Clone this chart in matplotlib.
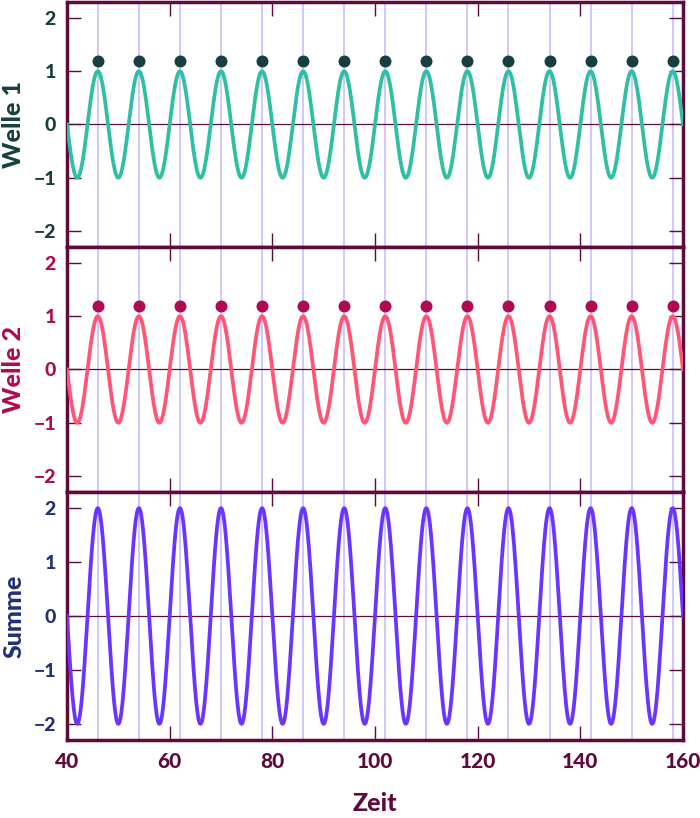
import numpy as np
import matplotlib.pyplot as plt

plt.rcParams['font.family'] = ['Lato', 'DejaVu Sans']
plt.rcParams['font.weight'] = 'black'

# data
t_start, t_end = 40, 160
period = 8.0
amp1 = 1.0
amp2 = 1.0
first_peak = 46.0
peaks = [46, 54, 62, 70, 78, 86, 94, 102, 110, 118, 126, 134, 142, 150, 158]
dot_y = 1.2
panel_names = ['Welle 1', 'Welle 2', 'Summe']
xticks = [40, 60, 80, 100, 120, 140, 160]

t = np.linspace(t_start, t_end, 2000)
w1 = amp1 * np.cos(2 * np.pi * (t - first_peak) / period)
w2 = amp2 * np.cos(2 * np.pi * (t - first_peak) / period)
total = w1 + w2

maroon = '#5e0a3d'
line_cols = ['#2fbfa3', '#ff5577', '#6a35ff']
label_cols = ['#173f3f', '#b00a50', '#22307a']
dot_cols = ['#173f3f', '#b00a50', None]
vline_col = '#c8bdff'

fig = plt.figure(figsize=(7, 8.18), dpi=100)
L, R = 67 / 700, 683 / 700
tops = [2, 247, 492]
bots = [247, 492, 740]
axes = []
for i in range(3):
    y0 = 1 - bots[i] / 818
    h = (bots[i] - tops[i]) / 818
    ax = fig.add_axes([L, y0, R - L, h])
    axes.append(ax)

series = [w1, w2, total]
for i, ax in enumerate(axes):
    for p in peaks:
        ax.axvline(p, color=vline_col, lw=1.2, zorder=1)
    ax.axhline(0, color=maroon, lw=0.9, zorder=1)
    ax.plot(t, series[i], color=line_cols[i], lw=2.7, zorder=3)
    if dot_cols[i]:
        ax.scatter(peaks, [dot_y] * len(peaks), s=58, color=dot_cols[i], zorder=4)
    ax.set_xlim(t_start, t_end)
    ax.set_ylim(-2.3, 2.3)
    ax.set_yticks([-2, -1, 0, 1, 2])
    ax.set_yticklabels(['\u22122', '\u22121', '0', '1', '2'])
    ax.set_xticks(xticks)
    for s in ax.spines.values():
        s.set_color(maroon)
        s.set_linewidth(2.5)
    ax.tick_params(axis='y', direction='in', length=10, width=1, color=maroon,
                   left=True, right=True, labelcolor=label_cols[i], labelsize=14, pad=8)
    ax.tick_params(axis='x', direction='in', length=10, width=1, color=maroon,
                   top=True, bottom=True, labelsize=15, labelcolor=maroon, pad=9)
    for lab in ax.get_yticklabels() + ax.get_xticklabels():
        lab.set_fontweight('black')
    ax.set_ylabel(panel_names[i], color=label_cols[i], fontsize=18, fontweight='black')
    ax.yaxis.set_label_coords(-0.068, 0.5)
    if i < 2:
        ax.tick_params(axis='x', labelbottom=False)

axes[2].set_xlabel('Zeit', color=maroon, fontsize=18, fontweight='black', labelpad=15)

fig.savefig('out.png', dpi=100)
